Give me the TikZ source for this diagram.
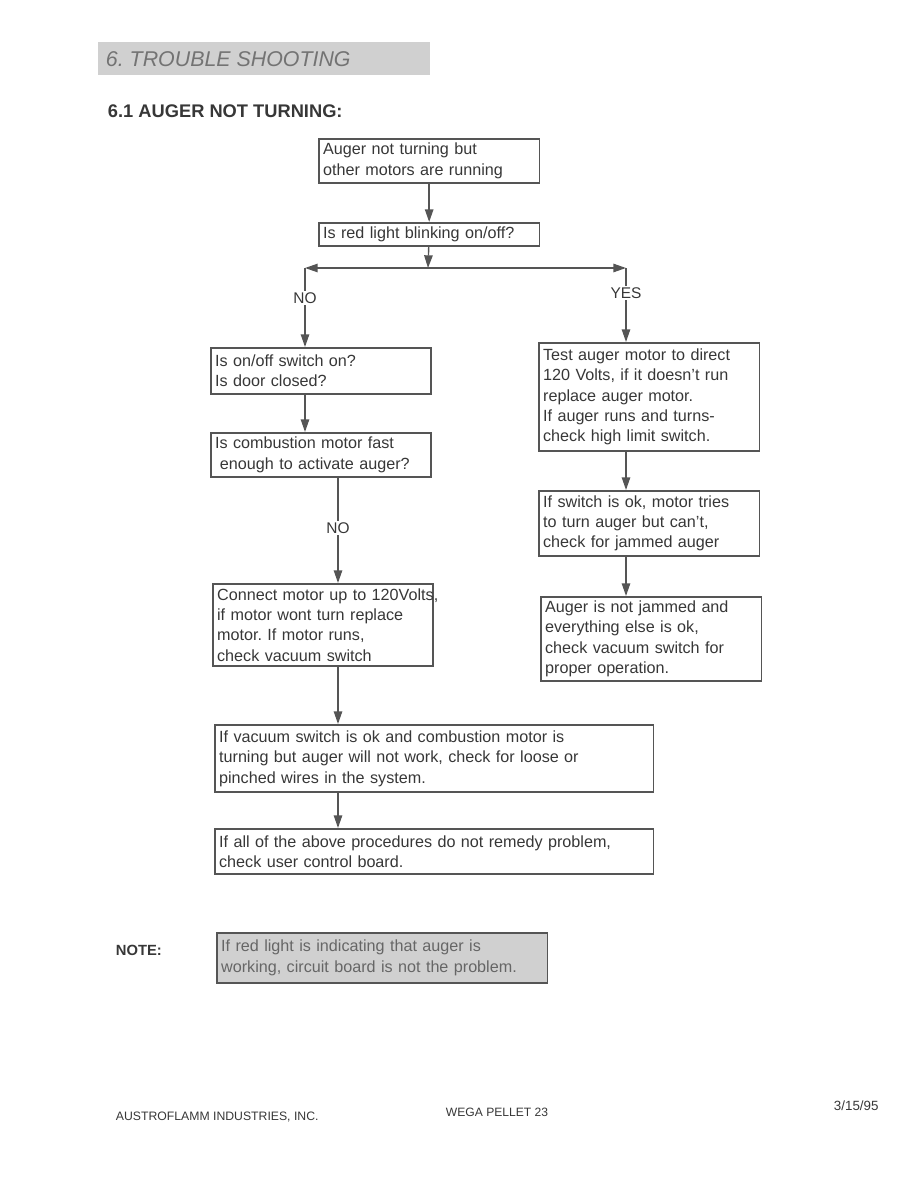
\documentclass[tikz,border=0pt]{standalone}
\usepackage{fontspec}
\setmainfont{Liberation Sans}
\usetikzlibrary{arrows.meta}
\frenchspacing

\definecolor{tsink}{RGB}{55, 55, 55}
\definecolor{tsline}{RGB}{85, 85, 85}
\definecolor{tsshade}{RGB}{208, 208, 208}

\tikzset{
  chkbox/.style={draw=tsline, line width=1.3pt, anchor=north west, align=left,
    inner xsep=3pt, inner ysep=2pt, text=tsink,
    font=\fontsize{11.5}{14.5}\selectfont},
  flow/.style={draw=tsline, line width=1pt, -{Triangle[length=9pt,width=6pt]}},
  plain/.style={draw=tsline, line width=1pt},
  lbl/.style={text=tsink, font=\fontsize{11}{13}\selectfont, inner sep=1pt},
}

\begin{document}
\begin{tikzpicture}[x=0.025cm, y=-0.025cm]
        \useasboundingbox (0,0) rectangle (918,1188);
        % heading
        \fill[tsshade] (98,42) rectangle (430,75);
        \node[anchor=west, text=black!55, font=\fontsize{15.2}{18}\selectfont\itshape] (title) at (101,59) {6. TROUBLE SHOOTING};
        \node[anchor=west, text=tsink, font=\fontsize{13}{15}\selectfont\bfseries] (sect) at (103,111) {6.1 AUGER NOT TURNING:};
        % boxes
        \node[chkbox, minimum width=5.5cm, minimum height=1.1cm, text width=5.3cm] (start) at (318,138) {Auger not turning but\\other motors are running};
        \node[chkbox, minimum width=5.5cm, minimum height=0.575cm, text width=5.3cm] (blink) at (318,222) {Is red light blinking on/off?};
        \node[chkbox, minimum width=5.5cm, minimum height=1.15cm, text width=5.3cm] (swon) at (210,347) {Is on/off switch on?\\Is door closed?};
        \node[chkbox, minimum width=5.5cm, minimum height=1.1cm, text width=5.3cm] (fast) at (210,432) {Is combustion motor fast\\\hspace*{0.3em}enough to activate auger?};
        \node[chkbox, minimum width=5.5cm, minimum height=2.05cm, text width=5.3cm] (conn) at (212,583) {\rlap{Connect motor up to 120Volts,}\\if motor wont turn replace\\motor. If motor runs,\\check vacuum switch};
        \node[chkbox, minimum width=5.475cm, minimum height=2.7cm, text width=5.3cm] (test) at (538,342) {Test auger motor to direct\\120 Volts, if it doesn't run\\replace auger motor.\\If auger runs and turns-\\check high limit switch.};
        \node[chkbox, minimum width=5.5cm, minimum height=1.625cm, text width=5.3cm] (jam) at (538,490) {If switch is ok, motor tries\\to turn auger but can't,\\check for jammed auger};
        \node[chkbox, minimum width=5.5cm, minimum height=2.1cm, text width=5.3cm] (vacok) at (540,596) {Auger is not jammed and\\everything else is ok,\\check vacuum switch for\\proper operation.};
        \node[chkbox, minimum width=10.95cm, minimum height=1.675cm, text width=10.75cm] (wires) at (214,724) {If vacuum switch is ok and combustion motor is\\turning but auger will not work, check for loose or\\pinched wires in the system.};
        \node[chkbox, minimum width=10.95cm, minimum height=1.125cm, text width=10.75cm] (board) at (214,828) {If all of the above procedures do not remedy problem,\\check user control board.};
        % labels
        \coordinate (split) at (428,268);
        \coordinate (noturn) at (305,268);
        \coordinate (yesturn) at (626,268);
        \node[lbl] (no1) at (305,298) {NO};
        \node[lbl] (yes1) at (626,293) {YES};
        \node[lbl] (no2) at (338,528) {NO};
        % connectors
        \draw[flow] (start) -- (blink);
        \draw[flow] (blink) -- (split);
        \draw[flow] (split) -- (noturn);
        \draw[flow] (split) -- (yesturn);
        \draw[plain] (noturn) -- (no1);
        \draw[plain] (yesturn) -- (yes1);
        \draw[flow] (no1) -- (swon.north -| no1);
        \draw[flow] (yes1) -- (test.north -| yes1);
        \draw[flow] (swon.south -| no1) -- (fast.north -| no1);
        \draw[plain] (fast.south -| no2) -- (no2);
        \draw[flow] (no2) -- (conn.north -| no2);
        \draw[flow] (conn.south -| no2) -- (wires.north -| no2);
        \draw[flow] (wires.south -| no2) -- (board.north -| no2);
        \draw[flow] (test.south -| yes1) -- (jam.north -| yes1);
        \draw[flow] (jam.south -| yes1) -- (vacok.north -| yes1);
        % note
        \node[anchor=west, text=tsink, font=\fontsize{10.5}{12}\selectfont\bfseries] (notelbl) at (111,950) {NOTE:};
        \node[chkbox, fill=tsshade, text=black!60, minimum width=8.25cm, minimum height=1.25cm, text width=8.05cm] (note) at (216,932) {If red light is indicating that auger is\\working, circuit board is not the problem.};
        % footer
        \node[anchor=west, text=tsink, font=\fontsize{8.7}{10}\selectfont] (maker) at (111,1117) {AUSTROFLAMM INDUSTRIES, INC.};
        \node[anchor=west, text=tsink, font=\fontsize{8.6}{10}\selectfont] (model) at (441,1112) {WEGA PELLET 23};
        \node[anchor=west, text=tsink, font=\fontsize{9.5}{11}\selectfont] (date) at (829,1106) {3/15/95};
\end{tikzpicture}
\end{document}
